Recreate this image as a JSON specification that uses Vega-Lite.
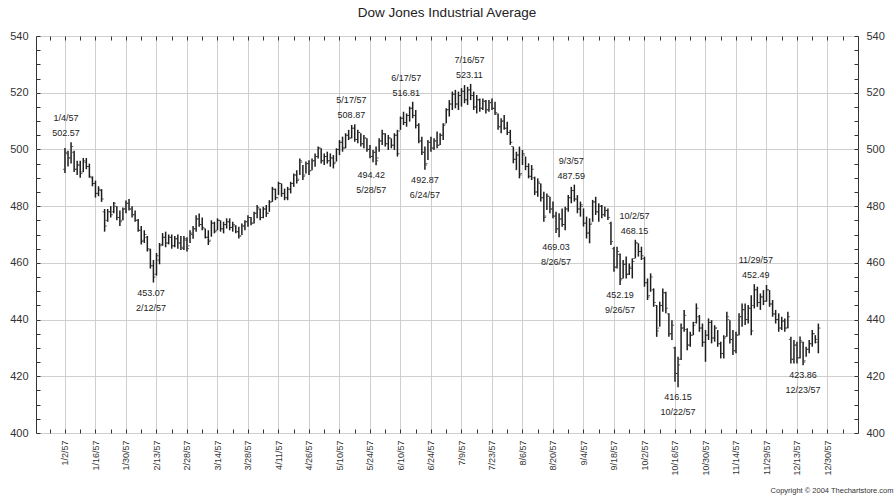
{
  "$schema": "https://vega.github.io/schema/vega-lite/v6.json",
  "width": 822,
  "height": 397,
  "autosize": {"type": "none"},
  "padding": {"left": 36, "top": 36, "right": 38, "bottom": 68},
  "background": "white",
  "title": {"text": "Dow Jones Industrial Average", "fontSize": 13.5, "fontWeight": "normal", "font": "Liberation Sans", "color": "#222", "offset": 11},
  "config": {"view": {"stroke": "#333", "strokeWidth": 1}, "font": "Liberation Sans"},
  "datasets": {
    "bars": [
      {"n":0,"h":500.5,"l":491.7,"o":493,"c":499},
      {"n":1,"h":499.5,"l":494,"o":498.5,"c":497},
      {"n":2,"h":502.57,"l":495,"o":497,"c":501},
      {"n":3,"h":499.5,"l":492,"o":499,"c":493},
      {"n":4,"h":496,"l":491,"o":493,"c":494.5},
      {"n":5,"h":496,"l":490,"o":494.5,"c":491.5},
      {"n":6,"h":497,"l":492,"o":492,"c":496},
      {"n":7,"h":497,"l":493,"o":495.5,"c":494},
      {"n":8,"h":495,"l":490,"o":494,"c":490.5},
      {"n":9,"h":490.5,"l":487,"o":490,"c":488},
      {"n":10,"h":489,"l":483,"o":488,"c":484.5},
      {"n":11,"h":487,"l":483.5,"o":484.5,"c":486},
      {"n":12,"h":486,"l":481.5,"o":485.5,"c":482.5},
      {"n":13,"h":479,"l":471,"o":478,"c":473},
      {"n":14,"h":479,"l":474.5,"o":475,"c":478},
      {"n":15,"h":480,"l":476,"o":478,"c":477},
      {"n":16,"h":481.5,"l":477.5,"o":478,"c":481},
      {"n":17,"h":480,"l":475,"o":480,"c":476},
      {"n":18,"h":478.5,"l":473,"o":476,"c":474.5},
      {"n":19,"h":479.5,"l":475,"o":475,"c":479},
      {"n":20,"h":482,"l":477.5,"o":479,"c":481},
      {"n":21,"h":482.5,"l":478.5,"o":481,"c":479},
      {"n":22,"h":480,"l":476,"o":479,"c":477},
      {"n":23,"h":478.5,"l":474.5,"o":477,"c":475},
      {"n":24,"h":475.5,"l":471,"o":475,"c":471.5},
      {"n":25,"h":473,"l":466.5,"o":471.5,"c":467.5},
      {"n":26,"h":471.5,"l":467,"o":468,"c":470},
      {"n":27,"h":469.5,"l":464,"o":469,"c":465},
      {"n":28,"h":465,"l":458,"o":464.5,"c":459},
      {"n":29,"h":461,"l":453.07,"o":459,"c":455},
      {"n":30,"h":463.5,"l":455.5,"o":456,"c":462.5},
      {"n":31,"h":467,"l":459.5,"o":461,"c":466},
      {"n":32,"h":470.5,"l":466,"o":466.5,"c":469},
      {"n":33,"h":471,"l":465.5,"o":469,"c":467},
      {"n":34,"h":470,"l":466.5,"o":467,"c":469},
      {"n":35,"h":470,"l":465,"o":469,"c":466},
      {"n":36,"h":469.5,"l":465.5,"o":466,"c":468.5},
      {"n":37,"h":470,"l":465,"o":468.5,"c":467},
      {"n":38,"h":469.5,"l":464.5,"o":467,"c":465.5},
      {"n":39,"h":469.5,"l":464.5,"o":465,"c":468.5},
      {"n":40,"h":469,"l":464,"o":468,"c":465},
      {"n":41,"h":471.5,"l":467,"o":466,"c":470.5},
      {"n":42,"h":473,"l":468.5,"o":470,"c":472},
      {"n":43,"h":476.8,"l":471,"o":472,"c":475.5},
      {"n":44,"h":477.4,"l":472.7,"o":475.5,"c":473.5},
      {"n":45,"h":476,"l":471.5,"o":473.5,"c":472.5},
      {"n":46,"h":472.1,"l":468.6,"o":472,"c":469},
      {"n":47,"h":471.5,"l":466.3,"o":469,"c":467.5},
      {"n":48,"h":475,"l":469.2,"o":468,"c":474},
      {"n":49,"h":474.5,"l":470.4,"o":474,"c":471},
      {"n":50,"h":475.7,"l":471.5,"o":471.5,"c":475},
      {"n":51,"h":475,"l":471,"o":475,"c":472},
      {"n":52,"h":474.5,"l":470.4,"o":472,"c":473.5},
      {"n":53,"h":475.7,"l":472.1,"o":473.5,"c":474.5},
      {"n":54,"h":475.7,"l":471.5,"o":474.5,"c":472.5},
      {"n":55,"h":474.5,"l":471,"o":472.5,"c":473.5},
      {"n":56,"h":473.3,"l":470.4,"o":473,"c":471},
      {"n":57,"h":472.7,"l":468.6,"o":471,"c":469.5},
      {"n":58,"h":473.9,"l":469.8,"o":469.5,"c":473},
      {"n":59,"h":475,"l":471.5,"o":473,"c":474.5},
      {"n":60,"h":476.8,"l":472.7,"o":474.5,"c":476},
      {"n":61,"h":476.2,"l":473.3,"o":476,"c":474},
      {"n":62,"h":478,"l":473.9,"o":474,"c":477.5},
      {"n":63,"h":480.4,"l":475.7,"o":477.5,"c":479.5},
      {"n":64,"h":479.2,"l":475,"o":479,"c":476},
      {"n":65,"h":479.8,"l":475.7,"o":476,"c":479},
      {"n":66,"h":480.4,"l":476.2,"o":479,"c":477.5},
      {"n":67,"h":482.1,"l":478,"o":477.5,"c":481.5},
      {"n":68,"h":486.8,"l":481.5,"o":481.5,"c":486},
      {"n":69,"h":486.2,"l":482.1,"o":486,"c":483},
      {"n":70,"h":488.6,"l":483.9,"o":483,"c":488},
      {"n":71,"h":488,"l":483.3,"o":488,"c":484.5},
      {"n":72,"h":486.2,"l":482.1,"o":484.5,"c":483},
      {"n":73,"h":486.8,"l":482.1,"o":483,"c":486},
      {"n":74,"h":488.6,"l":484.5,"o":486,"c":488},
      {"n":75,"h":491.5,"l":486.8,"o":488,"c":491},
      {"n":76,"h":492.7,"l":488,"o":491,"c":489},
      {"n":77,"h":496.8,"l":491,"o":489.5,"c":496},
      {"n":78,"h":494.5,"l":489.2,"o":495.5,"c":490.5},
      {"n":79,"h":495.7,"l":491.5,"o":491,"c":495},
      {"n":80,"h":496.2,"l":491,"o":495,"c":492.5},
      {"n":81,"h":496.8,"l":492.7,"o":492.5,"c":496},
      {"n":82,"h":498.6,"l":493.9,"o":496,"c":497.5},
      {"n":83,"h":501,"l":496.8,"o":497.5,"c":500.5},
      {"n":84,"h":500.4,"l":495,"o":500.5,"c":496},
      {"n":85,"h":498.6,"l":494.5,"o":496,"c":497.5},
      {"n":86,"h":499.2,"l":495,"o":497.5,"c":496},
      {"n":87,"h":498.6,"l":493.9,"o":496,"c":497},
      {"n":88,"h":498,"l":493.3,"o":497,"c":495},
      {"n":89,"h":500.4,"l":495.7,"o":495.5,"c":500},
      {"n":90,"h":503.3,"l":498,"o":500,"c":502.5},
      {"n":91,"h":504.5,"l":499.2,"o":502.5,"c":500.5},
      {"n":92,"h":505.7,"l":500.4,"o":500.5,"c":505},
      {"n":93,"h":506.9,"l":503.3,"o":505,"c":504},
      {"n":94,"h":508.6,"l":503.9,"o":504,"c":507.5},
      {"n":95,"h":508.87,"l":502.7,"o":507.5,"c":503.5},
      {"n":96,"h":506.9,"l":502.2,"o":503.5,"c":506},
      {"n":97,"h":505.7,"l":501,"o":506,"c":502},
      {"n":98,"h":505.1,"l":500.4,"o":502,"c":504},
      {"n":99,"h":503.9,"l":499.2,"o":504,"c":500},
      {"n":100,"h":501.6,"l":496.9,"o":500,"c":497.5},
      {"n":101,"h":499.8,"l":495.5,"o":497.5,"c":499},
      {"n":102,"h":501,"l":494.42,"o":499,"c":496},
      {"n":103,"h":503.9,"l":499.2,"o":497,"c":503},
      {"n":104,"h":506.9,"l":501.6,"o":503,"c":505.5},
      {"n":105,"h":505.7,"l":501,"o":505.5,"c":502},
      {"n":106,"h":505.1,"l":499.8,"o":502,"c":504},
      {"n":107,"h":503.9,"l":500.4,"o":504,"c":501.5},
      {"n":108,"h":505.7,"l":499.8,"o":501.5,"c":505},
      {"n":109,"h":506.9,"l":497.5,"o":505,"c":498.5},
      {"n":110,"h":511.6,"l":506.9,"o":506.5,"c":511},
      {"n":111,"h":513.3,"l":508.6,"o":511,"c":509.5},
      {"n":112,"h":512.7,"l":508,"o":509.5,"c":512},
      {"n":113,"h":515.1,"l":509.8,"o":512,"c":514.5},
      {"n":114,"h":516.81,"l":511,"o":514.5,"c":512},
      {"n":115,"h":513.9,"l":507.4,"o":512,"c":508.5},
      {"n":116,"h":509.2,"l":502.2,"o":508.5,"c":503},
      {"n":117,"h":504.5,"l":498,"o":503,"c":499},
      {"n":118,"h":501,"l":492.87,"o":499,"c":494.5},
      {"n":119,"h":503.3,"l":496.3,"o":495,"c":502.5},
      {"n":120,"h":504.5,"l":499.2,"o":502.5,"c":500.5},
      {"n":121,"h":503.9,"l":499.8,"o":500.5,"c":503},
      {"n":122,"h":506.3,"l":500.4,"o":503,"c":501.5},
      {"n":123,"h":505.7,"l":501.6,"o":501.5,"c":505},
      {"n":124,"h":509.2,"l":503.3,"o":505,"c":508.5},
      {"n":125,"h":514.5,"l":509.2,"o":509,"c":514},
      {"n":126,"h":517.4,"l":511.6,"o":514,"c":516},
      {"n":127,"h":520.4,"l":513.9,"o":516,"c":519.5},
      {"n":128,"h":521,"l":514.5,"o":519.5,"c":516},
      {"n":129,"h":520.4,"l":513.9,"o":516,"c":519},
      {"n":130,"h":521.6,"l":515.1,"o":519,"c":520.5},
      {"n":131,"h":522.7,"l":516.3,"o":520.5,"c":517.5},
      {"n":132,"h":522.1,"l":515.7,"o":517.5,"c":521},
      {"n":133,"h":523.11,"l":517.4,"o":521,"c":519},
      {"n":134,"h":520.4,"l":513.9,"o":519,"c":515},
      {"n":135,"h":519.2,"l":512.7,"o":515,"c":517.5},
      {"n":136,"h":518,"l":513.3,"o":517.5,"c":514.5},
      {"n":137,"h":518,"l":513.9,"o":514.5,"c":517},
      {"n":138,"h":517.4,"l":512.7,"o":517,"c":514},
      {"n":139,"h":517.4,"l":513.3,"o":514,"c":516.5},
      {"n":140,"h":518,"l":513.9,"o":516.5,"c":514.5},
      {"n":141,"h":516.8,"l":512.1,"o":514.5,"c":513},
      {"n":142,"h":512.7,"l":506.9,"o":512.5,"c":508},
      {"n":143,"h":511,"l":505.7,"o":508,"c":510},
      {"n":144,"h":512.1,"l":506.9,"o":510,"c":507.5},
      {"n":145,"h":509.8,"l":505.1,"o":507.5,"c":506},
      {"n":146,"h":506.9,"l":501.6,"o":506,"c":502.5},
      {"n":147,"h":501,"l":495.1,"o":501,"c":496.5},
      {"n":148,"h":499.2,"l":492.7,"o":496.5,"c":498},
      {"n":149,"h":501,"l":489.8,"o":498,"c":491},
      {"n":150,"h":499.8,"l":494.5,"o":491.5,"c":498.5},
      {"n":151,"h":497.5,"l":492.7,"o":498,"c":494},
      {"n":152,"h":495.1,"l":489.8,"o":494,"c":490.5},
      {"n":153,"h":494.5,"l":489.2,"o":490.5,"c":493},
      {"n":154,"h":490.4,"l":483.9,"o":490,"c":485},
      {"n":155,"h":489.8,"l":483.3,"o":485,"c":488.5},
      {"n":156,"h":488,"l":481.6,"o":488,"c":483},
      {"n":157,"h":485.1,"l":474.5,"o":483,"c":476},
      {"n":158,"h":484.5,"l":478.6,"o":476.5,"c":483.5},
      {"n":159,"h":483.3,"l":477.5,"o":483.5,"c":479},
      {"n":160,"h":481.6,"l":475.7,"o":479,"c":476.5},
      {"n":161,"h":478,"l":470.5,"o":476.5,"c":472},
      {"n":162,"h":477.5,"l":469.03,"o":472,"c":475.5},
      {"n":163,"h":479.2,"l":472.7,"o":475.5,"c":473.5},
      {"n":164,"h":479.8,"l":471.5,"o":473.5,"c":479},
      {"n":165,"h":483.9,"l":478,"o":479,"c":483},
      {"n":166,"h":486.8,"l":481,"o":483,"c":485.5},
      {"n":167,"h":487.59,"l":481.6,"o":485.5,"c":482.5},
      {"n":168,"h":483.9,"l":477.5,"o":482.5,"c":479},
      {"n":169,"h":481.6,"l":476.3,"o":479,"c":480.5},
      {"n":170,"h":479.2,"l":472.8,"o":480,"c":474},
      {"n":171,"h":476.3,"l":468.6,"o":474,"c":470.5},
      {"n":172,"h":475.7,"l":466.9,"o":470.5,"c":473.5},
      {"n":173,"h":482.2,"l":474.5,"o":474,"c":481.5},
      {"n":174,"h":483.3,"l":476.9,"o":481.5,"c":478},
      {"n":175,"h":481,"l":474.5,"o":478,"c":480},
      {"n":176,"h":480.4,"l":475.7,"o":480,"c":477},
      {"n":177,"h":479.8,"l":476.3,"o":477,"c":478.5},
      {"n":178,"h":479.2,"l":475.1,"o":478.5,"c":476},
      {"n":179,"h":474.5,"l":466.3,"o":474,"c":467.5},
      {"n":180,"h":465.7,"l":456.9,"o":465,"c":458.5},
      {"n":181,"h":465.7,"l":458,"o":458.5,"c":464},
      {"n":182,"h":463.3,"l":452.19,"o":463,"c":454},
      {"n":183,"h":461,"l":454.5,"o":454.5,"c":459.5},
      {"n":184,"h":462.2,"l":454.5,"o":459.5,"c":456},
      {"n":185,"h":459.8,"l":455.7,"o":456,"c":458.5},
      {"n":186,"h":461.6,"l":454.5,"o":458,"c":460.5},
      {"n":187,"h":468.15,"l":461.6,"o":461.5,"c":467},
      {"n":188,"h":466.9,"l":462.2,"o":467,"c":464},
      {"n":189,"h":465.7,"l":461,"o":464,"c":462.5},
      {"n":190,"h":462.2,"l":451.6,"o":461.5,"c":453},
      {"n":191,"h":454.5,"l":446.9,"o":453,"c":448},
      {"n":192,"h":456.3,"l":449.8,"o":448.5,"c":455},
      {"n":193,"h":451,"l":444.5,"o":450.5,"c":446},
      {"n":194,"h":445.1,"l":433.9,"o":445,"c":436},
      {"n":195,"h":446.3,"l":437.5,"o":437,"c":445},
      {"n":196,"h":451,"l":442.8,"o":445,"c":449.5},
      {"n":197,"h":449.8,"l":442.2,"o":449.5,"c":444},
      {"n":198,"h":442.2,"l":433.9,"o":442,"c":435},
      {"n":199,"h":439.8,"l":432.8,"o":435,"c":438},
      {"n":200,"h":430.4,"l":418.1,"o":430,"c":421},
      {"n":201,"h":426.9,"l":416.15,"o":421,"c":424},
      {"n":202,"h":438.6,"l":425.7,"o":426,"c":437},
      {"n":203,"h":443.4,"l":435.7,"o":437,"c":441.5},
      {"n":204,"h":436.9,"l":429.2,"o":436.5,"c":431},
      {"n":205,"h":435.7,"l":430.4,"o":431,"c":434.5},
      {"n":206,"h":439.2,"l":434.5,"o":434.5,"c":438},
      {"n":207,"h":445.7,"l":438.6,"o":439,"c":444},
      {"n":208,"h":441.6,"l":435.7,"o":441,"c":437},
      {"n":209,"h":438.6,"l":430.4,"o":437,"c":432},
      {"n":210,"h":436.3,"l":425.1,"o":432,"c":434.5},
      {"n":211,"h":440.4,"l":432.8,"o":434.5,"c":439},
      {"n":212,"h":439.8,"l":431.6,"o":439,"c":433.5},
      {"n":213,"h":438,"l":432.2,"o":433.5,"c":437},
      {"n":214,"h":436.3,"l":430.4,"o":437,"c":431.5},
      {"n":215,"h":432.2,"l":426.3,"o":431.5,"c":428},
      {"n":216,"h":434.5,"l":426.3,"o":428,"c":433.5},
      {"n":217,"h":442.8,"l":433.9,"o":434,"c":441},
      {"n":218,"h":439.8,"l":431.6,"o":440,"c":433},
      {"n":219,"h":436.3,"l":427.5,"o":433,"c":429},
      {"n":220,"h":435.7,"l":428.1,"o":429,"c":434.5},
      {"n":221,"h":442.2,"l":434.5,"o":434.5,"c":441},
      {"n":222,"h":445.7,"l":437.5,"o":441,"c":443.5},
      {"n":223,"h":445.7,"l":438.1,"o":443.5,"c":440},
      {"n":224,"h":445.1,"l":438.6,"o":440,"c":444},
      {"n":225,"h":448.6,"l":434.5,"o":444,"c":436},
      {"n":226,"h":452.49,"l":443.9,"o":445,"c":450.5},
      {"n":227,"h":451.6,"l":444.5,"o":450.5,"c":446},
      {"n":228,"h":449.2,"l":443.4,"o":446,"c":448},
      {"n":229,"h":450.4,"l":445.1,"o":448,"c":446.5},
      {"n":230,"h":452.2,"l":446.3,"o":446.5,"c":450.5},
      {"n":231,"h":450.4,"l":444.5,"o":450.5,"c":445.5},
      {"n":232,"h":446.9,"l":441,"o":445.5,"c":442},
      {"n":233,"h":443.4,"l":438.6,"o":442,"c":440},
      {"n":234,"h":442.2,"l":435.7,"o":440,"c":437},
      {"n":235,"h":441,"l":436.3,"o":437,"c":439.5},
      {"n":236,"h":440.4,"l":435.7,"o":439.5,"c":437},
      {"n":237,"h":442.8,"l":436.9,"o":437,"c":441},
      {"n":238,"h":433.9,"l":424.5,"o":433,"c":426},
      {"n":239,"h":432.8,"l":424.5,"o":426,"c":431},
      {"n":240,"h":432.2,"l":424.5,"o":431,"c":426.5},
      {"n":241,"h":434,"l":426.3,"o":426.5,"c":432.5},
      {"n":242,"h":432.2,"l":423.86,"o":432,"c":425},
      {"n":243,"h":430.4,"l":426.9,"o":425.5,"c":429.5},
      {"n":244,"h":432.8,"l":428.1,"o":429.5,"c":431.5},
      {"n":245,"h":436.3,"l":430.4,"o":431.5,"c":435},
      {"n":246,"h":434.5,"l":431.6,"o":435,"c":433},
      {"n":247,"h":438.6,"l":428.1,"o":432,"c":437}
    ],
    "notes": [
      {"n":0.3,"v":502.57,"t":"1/4/57\n502.57","pos":"top"},
      {"n":93.9,"v":508.87,"t":"5/17/57\n508.87","pos":"top"},
      {"n":111.9,"v":516.81,"t":"6/17/57\n516.81","pos":"top"},
      {"n":132.6,"v":523.11,"t":"7/16/57\n523.11","pos":"top"},
      {"n":166,"v":487.59,"t":"9/3/57\n487.59","pos":"top"},
      {"n":186.7,"v":468.15,"t":"10/2/57\n468.15","pos":"top"},
      {"n":226.5,"v":452.49,"t":"11/29/57\n452.49","pos":"top"},
      {"n":28.2,"v":453.07,"t":"453.07\n2/12/57","pos":"bottom"},
      {"n":100.4,"v":494.42,"t":"494.42\n5/28/57","pos":"bottom"},
      {"n":118,"v":492.87,"t":"492.87\n6/24/57","pos":"bottom"},
      {"n":161,"v":469.03,"t":"469.03\n8/26/57","pos":"bottom"},
      {"n":182,"v":452.19,"t":"452.19\n9/26/57","pos":"bottom"},
      {"n":201,"v":416.15,"t":"416.15\n10/22/57","pos":"bottom"},
      {"n":242,"v":423.86,"t":"423.86\n12/23/57","pos":"bottom"}
    ]
  },
  "resolve": {"axis": {"x": "independent", "y": "independent"}},
  "layer": [
    {
      "data": {"name": "bars"},
      "mark": {"type": "rule", "color": "#1e1e1e", "strokeWidth": 1.5},
      "encoding": {
        "x": {
          "field": "n", "type": "quantitative",
          "scale": {"domain": [-9.5, 260], "nice": false, "zero": false},
          "axis": {
            "orient": "bottom",
            "values": [-5,0,5,10,15,20,25,30,35,40,45,50,55,60,65,70,75,80,85,90,95,100,105,110,115,120,125,130,135,140,145,150,155,160,165,170,175,180,185,190,195,200,205,210,215,220,225,230,235,240,245,250,255],
            "labelExpr": "datum.value >= 0 && datum.value % 10 === 0 ? ['1/2/57','1/16/57','1/30/57','2/13/57','2/28/57','3/14/57','3/28/57','4/11/57','4/26/57','5/10/57','5/24/57','6/10/57','6/24/57','7/9/57','7/23/57','8/6/57','8/20/57','9/4/57','9/18/57','10/2/57','10/16/57','10/30/57','11/14/57','11/29/57','12/13/57','12/30/57'][datum.value / 10] : ''",
            "labelAngle": 270,
            "labelAlign": "right",
            "labelBaseline": "middle",
            "labelFontSize": 9,
            "labelColor": "#333",
            "labelPadding": 11,
            "labelOverlap": false,
            "labelFlush": false,
            "grid": true,
            "gridColor": "#cfcfcf",
            "gridOpacity": {"condition": {"test": "datum.value >= 0 && datum.value % 10 === 0", "value": 1}, "value": 0},
            "domain": false,
            "ticks": true,
            "tickSize": -4,
            "tickColor": "#333",
            "title": "Copyright © 2004 Thechartstore.com",
            "titleFontSize": 7.5,
            "titleFontWeight": "normal",
            "titleColor": "#333",
            "titleAngle": 0,
            "titleAlign": "right",
            "titleBaseline": "middle",
            "titleX": 857,
            "titleY": 57
          }
        },
        "y": {
          "field": "l", "type": "quantitative",
          "scale": {"domain": [400, 540], "nice": false, "zero": false},
          "axis": {
            "orient": "left",
            "values": [400,405,410,415,420,425,430,435,440,445,450,455,460,465,470,475,480,485,490,495,500,505,510,515,520,525,530,535,540],
            "labelExpr": "datum.value % 20 === 0 ? datum.label : ''",
            "labelFontSize": 11,
            "labelColor": "#333",
            "labelPadding": 12,
            "grid": true,
            "gridColor": "#cfcfcf",
            "gridOpacity": {"condition": {"test": "datum.value % 20 === 0", "value": 1}, "value": 0},
            "domain": false,
            "tickSize": -4,
            "tickColor": "#333",
            "title": null
          }
        },
        "y2": {"field": "h"}
      }
    },
    {
      "data": {"name": "bars"},
      "mark": {"type": "tick", "orient": "horizontal", "size": 1.6, "thickness": 1, "xOffset": -1.3, "color": "#1e1e1e"},
      "encoding": {
        "x": {
          "field": "n", "type": "quantitative",
          "axis": {
            "orient": "top",
            "values": [-5,0,5,10,15,20,25,30,35,40,45,50,55,60,65,70,75,80,85,90,95,100,105,110,115,120,125,130,135,140,145,150,155,160,165,170,175,180,185,190,195,200,205,210,215,220,225,230,235,240,245,250,255],
            "labels": false,
            "grid": false,
            "domain": false,
            "tickSize": -4,
            "tickColor": "#333",
            "title": null
          }
        },
        "y": {
          "field": "o", "type": "quantitative",
          "axis": {
            "orient": "right",
            "values": [400,405,410,415,420,425,430,435,440,445,450,455,460,465,470,475,480,485,490,495,500,505,510,515,520,525,530,535,540],
            "labelExpr": "datum.value % 20 === 0 ? datum.label : ''",
            "labelFontSize": 11,
            "labelColor": "#333",
            "labelPadding": 12,
            "grid": false,
            "domain": false,
            "tickSize": -4,
            "tickColor": "#333",
            "title": null
          }
        }
      }
    },
    {
      "data": {"name": "bars"},
      "mark": {"type": "tick", "orient": "horizontal", "size": 1.6, "thickness": 1, "xOffset": 1.3, "color": "#1e1e1e"},
      "encoding": {
        "x": {"field": "n", "type": "quantitative", "axis": null},
        "y": {"field": "c", "type": "quantitative", "axis": null}
      }
    },
    {
      "data": {"name": "notes"},
      "transform": [{"filter": "datum.pos === 'top'"}],
      "mark": {"type": "text", "baseline": "bottom", "align": "center", "dy": -19, "fontSize": 9, "lineHeight": 15, "lineBreak": "\n", "color": "#222"},
      "encoding": {
        "x": {"field": "n", "type": "quantitative", "axis": null},
        "y": {"field": "v", "type": "quantitative", "axis": null},
        "text": {"field": "t"}
      }
    },
    {
      "data": {"name": "notes"},
      "transform": [{"filter": "datum.pos === 'bottom'"}],
      "mark": {"type": "text", "baseline": "top", "align": "center", "dy": 6, "fontSize": 9, "lineHeight": 15, "lineBreak": "\n", "color": "#222"},
      "encoding": {
        "x": {"field": "n", "type": "quantitative", "axis": null},
        "y": {"field": "v", "type": "quantitative", "axis": null},
        "text": {"field": "t"}
      }
    }
  ]
}
